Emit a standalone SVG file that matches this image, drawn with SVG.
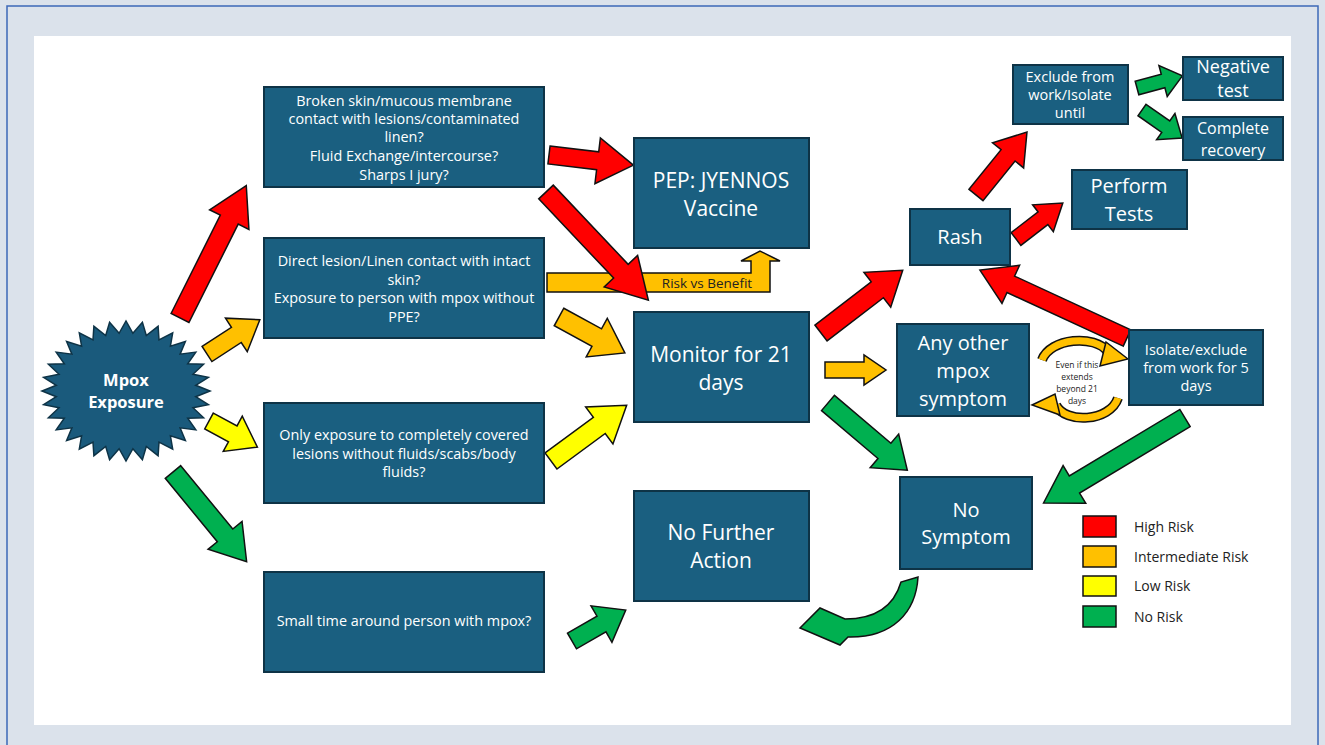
<svg xmlns="http://www.w3.org/2000/svg" width="1325" height="745" viewBox="0 0 1325 745">
<style>
.box{fill:#1a5f80;stroke:#0e3346;stroke-width:2}
.t{font-family:"Open Sans","Noto Sans",sans-serif;fill:#ffffff;text-anchor:middle}
.s{font-size:14.4px}
.m{font-size:14.5px}
.b{font-size:21px}
.r{fill:#ff0000;stroke:#111;stroke-width:1.5;stroke-linejoin:miter}
.o{fill:#ffc000;stroke:#111;stroke-width:1.5}
.y{fill:#ffff00;stroke:#111;stroke-width:1.5}
.g{fill:#00b050;stroke:#111;stroke-width:1.5}
.lg{font-family:"Open Sans","Noto Sans",sans-serif;font-size:14px;fill:#222}
</style>
<rect x="0" y="0" width="1325" height="745" fill="#dbe2eb"/>
<rect x="7" y="6" width="1311" height="760" fill="#dbe2eb" stroke="#3c68b8" stroke-width="1.5"/>
<rect x="34" y="36" width="1257" height="689" fill="#ffffff"/>

<g id="connectors">
<polygon class="r" transform="translate(180,318) rotate(-63.4)" points="0,-10 110,-10 110,-22 148,0 110,22 110,10 0,10"/>
<polygon class="o" transform="translate(207,354) rotate(-33)" points="0,-9 35,-9 35,-20 63,0 35,20 35,9 0,9"/>
<polygon class="y" transform="translate(209,421) rotate(28.4)" points="0,-9 27,-9 27,-20 55,0 27,20 27,9 0,9"/>
<polygon class="g" transform="translate(173,472) rotate(50.6)" points="0,-10 82,-10 82,-22 116,0 82,22 82,10 0,10"/>
<polygon class="r" transform="translate(549,155) rotate(6.8)" points="0,-9 49,-9 49,-23 85,0 49,23 49,9 0,9"/>
<path class="o" d="M547,273 L751,273 L751,261 L741,261 L760,251 L780,261 L770,261 L770,292 L547,292 Z"/>
<polygon class="r" transform="translate(546,192) rotate(46.6)" points="0,-10 109,-10 109,-23 149,0 109,23 109,10 0,10"/>
<text x="707" y="288" style="font-family:'Open Sans','Noto Sans',sans-serif;font-size:13.5px;fill:#222;text-anchor:middle">Risk vs Benefit</text>
<polygon class="o" transform="translate(559,317) rotate(28.6)" points="0,-10 43,-10 43,-22 75,0 43,22 43,10 0,10"/>
<polygon class="y" transform="translate(551,461) rotate(-36.4)" points="0,-10 60,-10 60,-23 94,0 60,23 60,10 0,10"/>
<polygon class="g" transform="translate(572,641) rotate(-29.9)" points="0,-9 34,-9 34,-21 62,0 34,21 34,9 0,9"/>
<polygon class="r" transform="translate(821,333) rotate(-37.5)" points="0,-10 71,-10 71,-22 103,0 71,22 71,10 0,10"/>
<polygon class="o" transform="translate(825,370)" points="0,-8 39,-8 39,-15 61,0 39,15 39,8 0,8"/>
<polygon class="g" transform="translate(828,403) rotate(40.3)" points="0,-10 74,-10 74,-22 104,0 74,22 74,10 0,10"/>
<polygon class="r" transform="translate(976,195) rotate(-51)" points="0,-9 51,-9 51,-20 81,0 51,20 51,9 0,9"/>
<polygon class="r" transform="translate(1016,239) rotate(-37.5)" points="0,-8 34,-8 34,-17 59,0 34,17 34,8 0,8"/>
<polygon class="r" transform="translate(1127,338) rotate(-155.2)" points="0,-9 128,-9 128,-21 162,0 128,21 128,9 0,9"/>
<polygon class="g" transform="translate(1185,418) rotate(149)" points="0,-10 129,-10 129,-22 165,0 129,22 129,10 0,10"/>
<polygon class="g" transform="translate(1137,88) rotate(-15)" points="0,-7 27,-7 27,-16 47,0 27,16 27,7 0,7"/>
<polygon class="g" transform="translate(1142,110) rotate(35)" points="0,-7 29,-7 29,-16 49,0 29,16 29,7 0,7"/>
<path class="g" d="M918,577 C916,612 893,638 848,637 L840,645 L800,628 L820,608 L845,619 C876,619 894,606 901,582 Z"/>
<path d="M1042,360 C1050,338 1095,334 1108,352" fill="none" stroke="#111" stroke-width="10"/>
<path d="M1042,360 C1050,338 1095,334 1108,352" fill="none" stroke="#ffc000" stroke-width="7"/>
<polygon class="o" points="1128,359 1106,342 1100,366"/>
<path d="M1118,398 C1110,422 1065,424 1056,405" fill="none" stroke="#111" stroke-width="10"/>
<path d="M1118,398 C1110,422 1065,424 1056,405" fill="none" stroke="#ffc000" stroke-width="7"/>
<polygon class="o" points="1032,405 1055,394 1060,415"/>
<g style="font-family:'Open Sans','Noto Sans',sans-serif;font-size:8.5px;fill:#222;text-anchor:middle">
<text x="1077" y="368">Even if this</text>
<text x="1077" y="380">extends</text>
<text x="1077" y="392">beyond 21</text>
<text x="1077" y="404">days</text>
</g>
</g>

<g id="mpox-exposure">
<polygon fill="#1a5a7c" stroke="#0e3346" stroke-width="1.5" points="210,391 195.7,396.7 208.4,404.7 193,407.8 203.6,417.8 187.7,418.3 195.8,429.9 180.1,427.8 185.4,440.5 170.4,435.8 172.7,449.2 159,442.2 158.1,455.7 146.3,446.5 142.4,459.7 132.9,448.7 126,461 119.1,448.7 109.6,459.7 105.7,446.5 93.9,455.7 93,442.2 79.3,449.2 81.6,435.8 66.6,440.5 71.9,427.8 56.2,429.9 64.3,418.3 48.4,417.8 59,407.8 43.6,404.7 56.3,396.7 42,391 56.3,385.3 43.6,377.3 59,374.2 48.4,364.2 64.3,363.7 56.2,352.1 71.9,354.2 66.6,341.5 81.6,346.2 79.3,332.8 93,339.8 93.9,326.3 105.7,335.5 109.6,322.3 119.1,333.3 126,321 132.9,333.3 142.4,322.3 146.3,335.5 158.1,326.3 159,339.8 172.7,332.8 170.4,346.2 185.4,341.5 180.1,354.2 195.8,352.1 187.7,363.7 203.6,364.2 193,374.2 208.4,377.3 195.7,385.3"/>
<text class="t" x="126" y="386" style="font-size:16.5px;font-weight:bold">Mpox</text>
<text class="t" x="126" y="408" style="font-size:16.5px;font-weight:bold">Exposure</text>
</g>

<g id="broken-skin">
<rect class="box" x="264" y="87" width="280" height="100"/>
<text class="t s" x="404" y="106">Broken skin/mucous membrane</text>
<text class="t s" x="404" y="124">contact with lesions/contaminated</text>
<text class="t s" x="404" y="142">linen?</text>
<text class="t s" x="404" y="161">Fluid Exchange/intercourse?</text>
<text class="t s" x="404" y="180">Sharps I jury?</text>
</g>

<g id="direct-lesion">
<rect class="box" x="264" y="238" width="280" height="100"/>
<text class="t s" x="404" y="266">Direct lesion/Linen contact with intact</text>
<text class="t s" x="404" y="285">skin?</text>
<text class="t s" x="404" y="303">Exposure to person with mpox without</text>
<text class="t s" x="404" y="322">PPE?</text>
</g>

<g id="covered-lesions">
<rect class="box" x="264" y="403" width="280" height="100"/>
<text class="t s" x="404" y="440">Only exposure to completely covered</text>
<text class="t s" x="404" y="459">lesions without fluids/scabs/body</text>
<text class="t s" x="404" y="477">fluids?</text>
</g>

<g id="small-time">
<rect class="box" x="264" y="572" width="280" height="100"/>
<text class="t s" x="404" y="626">Small time around person with mpox?</text>
</g>

<g id="pep">
<rect class="box" x="634" y="138" width="175" height="110"/>
<text class="t b" x="721" y="188">PEP: JYENNOS</text>
<text class="t b" x="721" y="216">Vaccine</text>
</g>

<g id="monitor">
<rect class="box" x="634" y="312" width="175" height="110"/>
<text class="t b" x="721" y="362">Monitor for 21</text>
<text class="t b" x="721" y="390">days</text>
</g>

<g id="no-further-action">
<rect class="box" x="634" y="491" width="175" height="110"/>
<text class="t b" x="721" y="540">No Further</text>
<text class="t b" x="721" y="568">Action</text>
</g>

<g id="rash">
<rect class="box" x="910" y="209" width="100" height="56"/>
<text class="t" x="960" y="244" style="font-size:20px">Rash</text>
</g>

<g id="any-other-symptom">
<rect class="box" x="897" y="324" width="132" height="92"/>
<text class="t" x="963" y="350" style="font-size:20px">Any other</text>
<text class="t" x="963" y="378" style="font-size:20px">mpox</text>
<text class="t" x="963" y="406" style="font-size:20px">symptom</text>
</g>

<g id="isolate-5-days">
<rect class="box" x="1129" y="330" width="134" height="75"/>
<text class="t m" x="1196" y="355">Isolate/exclude</text>
<text class="t m" x="1196" y="373">from work for 5</text>
<text class="t m" x="1196" y="391">days</text>
</g>

<g id="no-symptom">
<rect class="box" x="900" y="477" width="132" height="92"/>
<text class="t" x="966" y="517" style="font-size:20px">No</text>
<text class="t" x="966" y="544" style="font-size:20px">Symptom</text>
</g>

<g id="exclude-from-work">
<rect class="box" x="1013" y="65" width="115" height="59"/>
<text class="t m" x="1070" y="82">Exclude from</text>
<text class="t m" x="1070" y="100">work/Isolate</text>
<text class="t m" x="1070" y="118">until</text>
</g>

<g id="negative-test">
<rect class="box" x="1183" y="57" width="100" height="43"/>
<text class="t" x="1233" y="73" style="font-size:18px">Negative</text>
<text class="t" x="1233" y="97" style="font-size:18px">test</text>
</g>

<g id="complete-recovery">
<rect class="box" x="1183" y="117" width="100" height="43"/>
<text class="t" x="1233" y="134" style="font-size:16px">Complete</text>
<text class="t" x="1233" y="156" style="font-size:16px">recovery</text>
</g>

<g id="perform-tests">
<rect class="box" x="1072" y="170" width="115" height="59"/>
<text class="t" x="1129" y="193" style="font-size:20px">Perform</text>
<text class="t" x="1129" y="221" style="font-size:20px">Tests</text>
</g>

<g id="legend">
<rect class="r" x="1083" y="516" width="33" height="21"/>
<rect class="o" x="1083" y="546" width="33" height="21"/>
<rect class="y" x="1083" y="576" width="33" height="20"/>
<rect class="g" x="1083" y="606" width="33" height="21"/>
<text class="lg" x="1134" y="532">High Risk</text>
<text class="lg" x="1134" y="562">Intermediate Risk</text>
<text class="lg" x="1134" y="591">Low Risk</text>
<text class="lg" x="1134" y="622">No Risk</text>
</g>
</svg>
